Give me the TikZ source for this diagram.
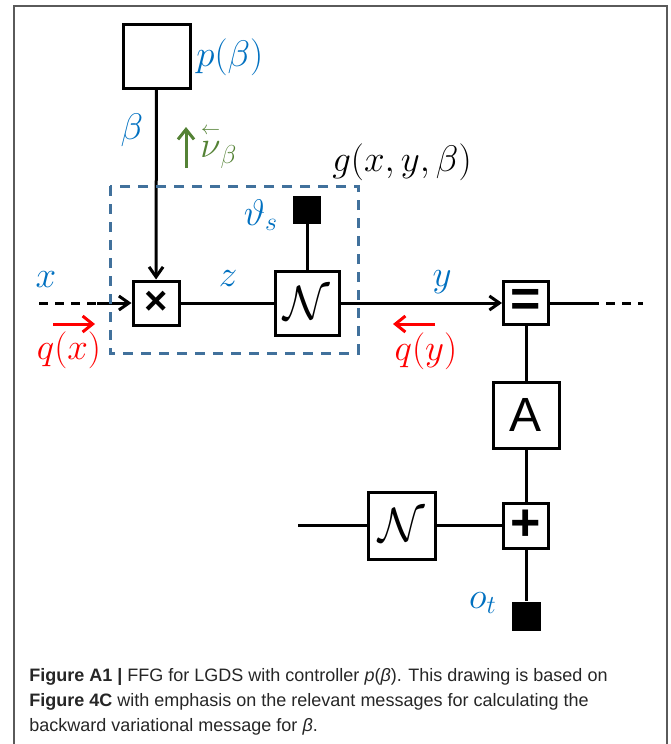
\RequirePackage{fix-cm}
\documentclass[tikz,border=0pt]{standalone}
\usepackage{amsmath,amssymb}
\usepackage{fontspec}
\newfontfamily\capfont{Liberation Sans}
\usetikzlibrary{arrows, arrows.meta, positioning}

\definecolor{msgblue}{RGB}{0,112,192}
\definecolor{boxblue}{RGB}{65,113,156}
\definecolor{msggreen}{RGB}{84,130,53}
\definecolor{msgred}{RGB}{255,0,0}
\definecolor{framegray}{RGB}{90,90,90}

\tikzset{
  factor/.style={draw, line width=1.5pt, fill=white, inner sep=0pt},
  clamp/.style={fill=black, inner sep=0pt},
  edge/.style={line width=1.5pt},
  msg/.style={line width=1.5pt, -{Straight Barb[length=5pt, width=8pt]}},
  lbl/.style={font=\fontsize{18.5}{20}\selectfont, inner sep=0pt},
  sym/.style={font=\capfont\bfseries\fontsize{26}{26}\selectfont}
}

\begin{document}
\begin{tikzpicture}[
  x=0.5pt, y=-0.5pt,
  >={Straight Barb[length=5pt, width=7pt]}
]
  \useasboundingbox (0,0) rectangle (670,744);

  % Frame
  \draw[framegray, line width=1pt]
    (14,744) -- (14,6) -- (667,6) -- (667,744);

  % Factor nodes
  \node[factor, minimum width=33.5pt, minimum height=32pt] (prior) at (156.5,56) {};
  \node[factor, minimum width=23pt, minimum height=22pt,
        font=\capfont\bfseries\fontsize{20}{20}\selectfont] (mult) at (156,303) {×};
  \node[factor, minimum size=32pt, font=\fontsize{24}{24}\selectfont] (fN) at (307,303) {$\mathcal{N}$};
  \node[clamp, minimum size=14pt] (theta) at (307,210) {};
  \node[factor, minimum width=22.5pt, minimum height=21.5pt, sym] (eq) at (526,303) {=};
  \node[factor, minimum size=33pt, font=\capfont\fontsize{24}{24}\selectfont] (Amat) at (526,415) {A};
  \node[factor, minimum size=22.5pt, sym] (plus) at (526,525.5) {+};
  \node[factor, minimum size=33.5pt, font=\fontsize{24}{24}\selectfont] (nN) at (401.5,525.5) {$\mathcal{N}$};
  \node[clamp, minimum size=14.5pt] (obs) at (526,616) {};

  % Free edge ends
  \coordinate (xstart) at (39,303);
  \coordinate (xmid) at (97,303);
  \coordinate (eqout) at (590,303);
  \coordinate (yend) at (643,303);
  \coordinate (nstart) at (298,525.5);

  % Edges
  \draw[edge, ->] (prior) -- (mult);
  \draw[edge, dash pattern=on 4.5pt off 3.5pt] (xstart) -- (xmid);
  \draw[edge, ->] (xmid) -- (mult);
  \draw[edge] (mult) -- (fN);
  \draw[edge] (theta) -- (fN);
  \draw[edge, ->] (fN) -- (eq);
  \draw[edge] (eq) -- (eqout);
  \draw[edge, dash pattern=on 4.5pt off 3.5pt] (eqout) -- (yend);
  \draw[edge] (eq) -- (Amat);
  \draw[edge] (Amat) -- (plus);
  \draw[edge] (nstart) -- (nN);
  \draw[edge] (nN) -- (plus);
  \draw[edge] (plus) -- (obs);

  % Composite node g
  \draw[boxblue, line width=1.5pt, dash pattern=on 5pt off 4pt]
    (110,186) rectangle (358,353);

  % Edge and factor labels
  \node[lbl, text=msgblue, anchor=west] (pl) at (196,57) {$p(\beta)$};
  \node[lbl, text=msgblue] (bl) at (132,130) {$\beta$};
  \node[lbl] (gl) at (402,162) {$g(x,y,\beta)$};
  \node[lbl, text=msgblue] (thl) at (261,215) {$\vartheta_s$};
  \node[lbl, text=msgblue] (xl) at (46,280) {$x$};
  \node[lbl, text=msgblue] (zl) at (228,279) {$z$};
  \node[lbl, text=msgblue] (yl) at (442,282) {$y$};
  \node[lbl, text=msgblue] (ol) at (483,603) {$o_t$};

  % Messages
  \coordinate (nu0) at (186,168);
  \coordinate (nu1) at (186,127);
  \draw[msg, msggreen] (nu0) -- (nu1);
  \node[lbl, text=msggreen, anchor=west] (nul) at (200,146)
    {$\overset{\scriptscriptstyle\leftarrow}{\nu}_{\beta}$};
  \coordinate (qx0) at (53,324);
  \coordinate (qx1) at (95,324);
  \draw[msg, msgred] (qx0) -- (qx1);
  \node[lbl, text=msgred] (qxl) at (69,350) {$q(x)$};
  \coordinate (qy0) at (435,324);
  \coordinate (qy1) at (393,324);
  \draw[msg, msgred] (qy0) -- (qy1);
  \node[lbl, text=msgred] (qyl) at (426,351) {$q(y)$};

  % Caption
  \node[anchor=base west, inner sep=0pt, align=left, text=black!85,
        font=\capfont\fontsize{9}{12.5}\selectfont] (cap) at (29,731)
    {\textbf{Figure A1 |} FFG for LGDS with controller \textit{p}(\textit{β}). This drawing is based on\\
     \textbf{Figure 4C} with emphasis on the relevant messages for calculating the\\
     backward variational message for \textit{β}.};
\end{tikzpicture}
\end{document}
